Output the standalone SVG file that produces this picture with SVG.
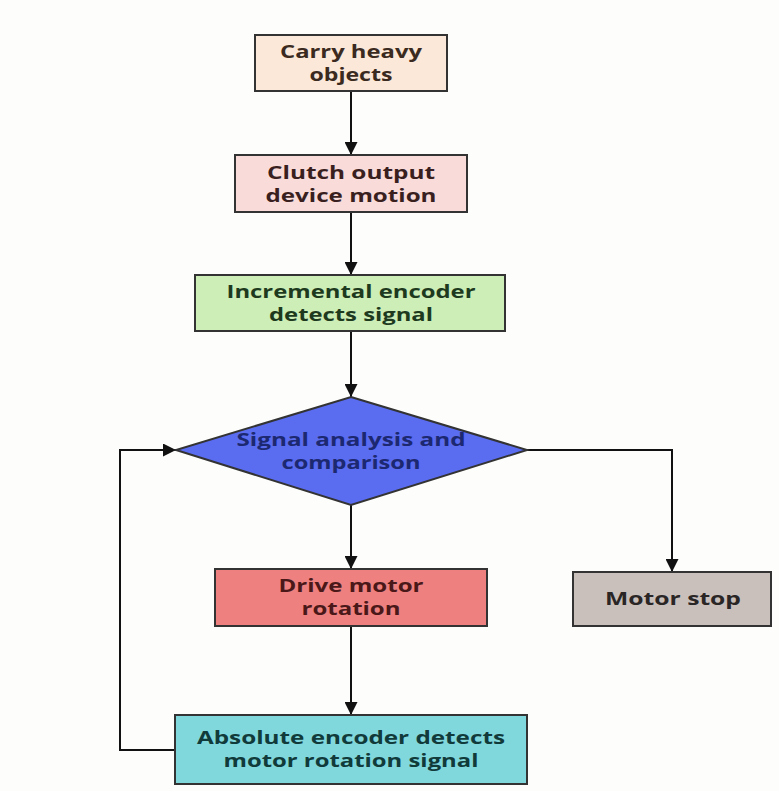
<svg xmlns="http://www.w3.org/2000/svg" width="779" height="791" viewBox="0 0 779 791">
<defs>
<marker id="ah" viewBox="0 0 10 10" refX="10" refY="5" markerWidth="13" markerHeight="13" markerUnits="userSpaceOnUse" orient="auto">
<path d="M0,0 L10,5 L0,10 z" fill="#111"/>
</marker>
<style>
.box{stroke:#333;stroke-width:2}
.t{font-family:"Open Sans","DejaVu Sans",sans-serif;font-weight:bold;font-size:17px;text-anchor:middle}
.c{fill:none;stroke:#111;stroke-width:2;marker-end:url(#ah)}
</style>
</defs>
<rect width="779" height="791" fill="#fdfdfc"/>
<g id="connectors">
<path class="c" d="M351,91 V155"/>
<path class="c" d="M351,212 V275"/>
<path class="c" d="M351,331 V397"/>
<path class="c" d="M351,505 V569"/>
<path class="c" d="M527,450 H672 V572"/>
<path class="c" d="M351,626 V715"/>
<path class="c" d="M175,750 H120 V450 H176"/>
</g>
<g id="n1">
<rect class="box" x="255" y="35" width="192" height="56" fill="#fbe8d8"/>
<text class="t" x="351" y="58" fill="#3a2a20" textLength="142" lengthAdjust="spacingAndGlyphs">Carry heavy</text>
<text class="t" x="351" y="81" fill="#3a2a20" textLength="83" lengthAdjust="spacingAndGlyphs">objects</text>
</g>
<g id="n2">
<rect class="box" x="235" y="155" width="232" height="57" fill="#f9dcd9"/>
<text class="t" x="351" y="179" fill="#3a1f1f" textLength="168" lengthAdjust="spacingAndGlyphs">Clutch output</text>
<text class="t" x="351" y="202" fill="#3a1f1f" textLength="171" lengthAdjust="spacingAndGlyphs">device motion</text>
</g>
<g id="n3">
<rect class="box" x="195" y="275" width="310" height="56" fill="#cdeeb6"/>
<text class="t" x="351" y="298" fill="#1e3a1e" textLength="249" lengthAdjust="spacingAndGlyphs">Incremental encoder</text>
<text class="t" x="351" y="321" fill="#1e3a1e" textLength="164" lengthAdjust="spacingAndGlyphs">detects signal</text>
</g>
<g id="n4">
<polygon class="box" points="351,397 527,450 351,505 176,450" fill="#5a6cf0"/>
<text class="t" x="351" y="446" fill="#1c2870" textLength="229" lengthAdjust="spacingAndGlyphs">Signal analysis and</text>
<text class="t" x="351" y="469" fill="#1c2870" textLength="139" lengthAdjust="spacingAndGlyphs">comparison</text>
</g>
<g id="n5">
<rect class="box" x="215" y="569" width="272" height="57" fill="#ee8080"/>
<text class="t" x="351" y="592" fill="#4a1818" textLength="145" lengthAdjust="spacingAndGlyphs">Drive motor</text>
<text class="t" x="351" y="615" fill="#4a1818" textLength="99" lengthAdjust="spacingAndGlyphs">rotation</text>
</g>
<g id="n6">
<rect class="box" x="573" y="572" width="198" height="54" fill="#c9c0bc"/>
<text class="t" x="673" y="605" fill="#2b2626" textLength="136" lengthAdjust="spacingAndGlyphs">Motor stop</text>
</g>
<g id="n7">
<rect class="box" x="175" y="715" width="352" height="69" fill="#80d8dd"/>
<text class="t" x="351" y="744" fill="#113a3a" textLength="308" lengthAdjust="spacingAndGlyphs">Absolute encoder detects</text>
<text class="t" x="351" y="767" fill="#113a3a" textLength="255" lengthAdjust="spacingAndGlyphs">motor rotation signal</text>
</g>
</svg>
